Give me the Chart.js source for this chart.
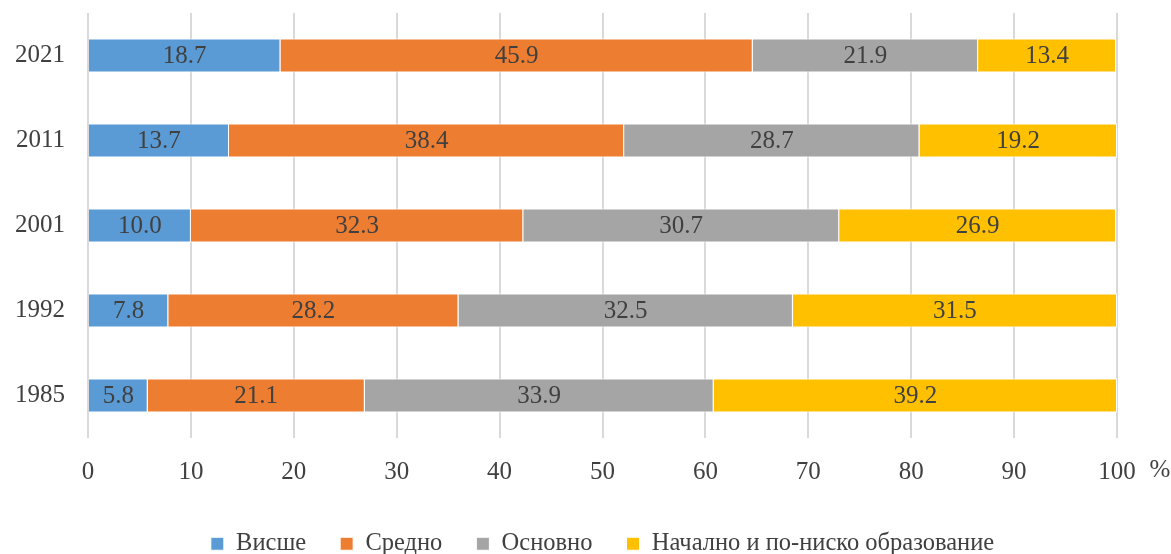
<!DOCTYPE html>
<html>
<head>
<meta charset="utf-8">
<script src="https://cdn.jsdelivr.net/npm/chart.js@4/dist/chart.umd.min.js"></script>
<style>
  html, body { margin: 0; padding: 0; background: #fff; }
  #wrap { width: 1171px; height: 554px; }
</style>
</head>
<body>
<div id="wrap"><canvas id="c"></canvas></div>
<script>
// years, top to bottom
const years = ['2021', '2011', '2001', '1992', '1985'];
const seriesNames = ['Висше', 'Средно', 'Основно', 'Начално и по-ниско образование'];
const higher = [18.7, 13.7, 10.0, 7.8, 5.8];
const secondary = [45.9, 38.4, 32.3, 28.2, 21.1];
const basic = [21.9, 28.7, 30.7, 32.5, 33.9];
const primary = [13.4, 19.2, 26.9, 31.5, 39.2];
const colors = ['#5B9BD5', '#ED7D31', '#A5A5A5', '#FFC000'];

const FONT = '"Liberation Serif", "Times New Roman", serif';
const TEXT = '#404040';

// value labels in the middle of each segment
const segLabels = {
  id: 'segLabels',
  afterDatasetsDraw(chart) {
    const ctx = chart.ctx;
    ctx.save();
    ctx.font = '25px ' + FONT;
    ctx.fillStyle = TEXT;
    ctx.textAlign = 'center';
    ctx.textBaseline = 'middle';
    chart.data.datasets.forEach((ds, i) => {
      chart.getDatasetMeta(i).data.forEach((bar, j) => {
        const p = bar.getProps(['x', 'y', 'base'], true);
        ctx.fillText(ds.data[j].toFixed(1), (p.x + p.base) / 2, p.y + 1);
      });
    });
    ctx.restore();
  }
};

// "%" unit after the last tick, legend centred under the plot
const unitMark = {
  id: 'unitMark',
  afterLayout(chart) {
    if (chart.legend) {
      chart.legend.left = chart.chartArea.left;
      chart.legend.right = chart.chartArea.right;
    }
  },
  afterDraw(chart) {
    const xs = chart.scales.x;
    const ctx = chart.ctx;
    ctx.save();
    ctx.font = '25px ' + FONT;
    ctx.fillStyle = TEXT;
    ctx.textAlign = 'center';
    ctx.textBaseline = 'middle';
    ctx.fillText('%', xs.getPixelForValue(100) + 43, xs.top + 32);
    ctx.restore();
  }
};

new Chart(document.getElementById('c'), {
  type: 'bar',
  data: {
    labels: years,
    datasets: [higher, secondary, basic, primary].map((d, i) => ({
      label: seriesNames[i],
      data: d,
      backgroundColor: colors[i],
      borderColor: '#ffffff',
      borderWidth: 1,
      barPercentage: 0.8,
      categoryPercentage: 0.5
    }))
  },
  options: {
    indexAxis: 'y',
    responsive: true,
    maintainAspectRatio: false,
    animation: false,
    layout: { padding: { top: 13, right: 54, left: 0, bottom: -12 } },
    scales: {
      x: {
        stacked: true,
        min: 0,
        max: 100,
        ticks: { stepSize: 10, color: TEXT, font: { family: FONT, size: 25 }, padding: 19 },
        grid: { color: '#D9D9D9', lineWidth: 2, drawTicks: false },
        border: { display: false },
        afterFit(s) { s.height = 59.5; }
      },
      y: {
        stacked: true,
        ticks: { color: TEXT, font: { family: FONT, size: 25, lineHeight: 1 }, padding: 0 },
        grid: { drawOnChartArea: false, color: 'rgba(0,0,0,0)', drawTicks: true, tickLength: 23 },
        border: { display: false },
        afterFit(s) { s.width = 88; }
      }
    },
    plugins: {
      legend: {
        position: 'bottom',
        labels: {
          boxWidth: 13,
          boxHeight: 13,
          padding: 34,
          color: TEXT,
          font: { family: FONT, size: 24.5 }
        }
      },
      tooltip: { enabled: false }
    }
  },
  plugins: [segLabels, unitMark]
});
</script>
</body>
</html>
